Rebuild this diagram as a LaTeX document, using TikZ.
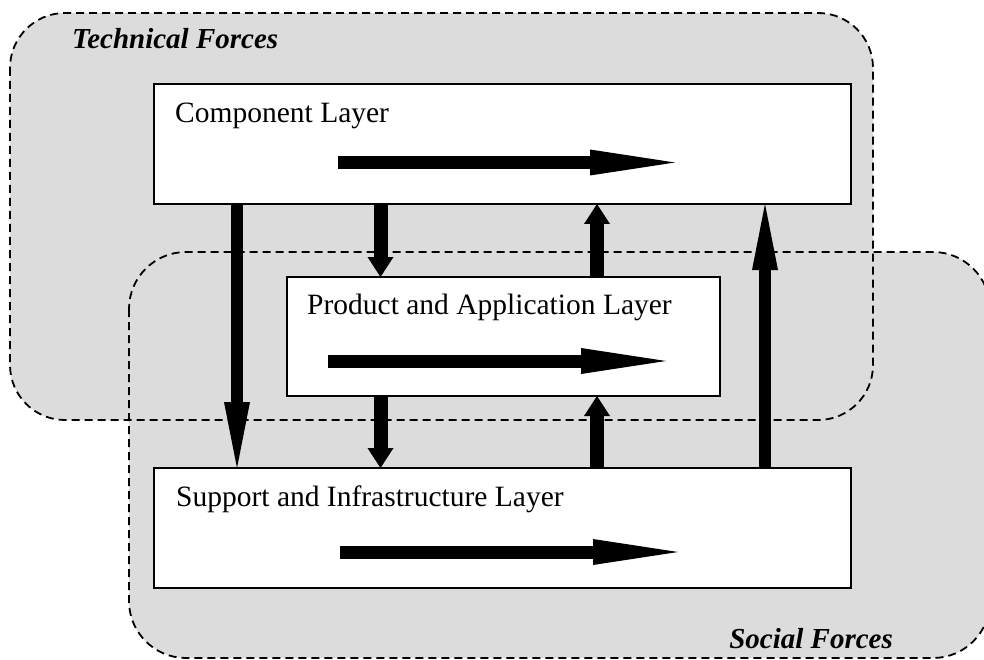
\documentclass[tikz,border=0pt]{standalone}
\usepackage{fontspec}
\setmainfont{Liberation Serif}
\usepackage{tikz}
\usetikzlibrary{arrows.meta}
\usetikzlibrary{positioning}
\definecolor{forcegray}{RGB}{220,220,220}
\tikzset{
    forcearea/.style={fill=forcegray},
    forceline/.style={draw=black, line width=1.8pt, dash pattern=on 8pt off 5pt},
    forcelabel/.style={inner sep=0pt, font=\fontsize{29}{34}\selectfont\bfseries\itshape},
    layer/.style={draw=black, fill=white, line width=1.6pt, inner sep=0pt, outer sep=0pt},
    layerlabel/.style={inner sep=0pt, font=\fontsize{29.5}{34}\selectfont},
    flow/.style={draw=black, line width=13pt,
        -{Triangle[length=85pt,width=26pt,line width=0pt]}},
    longflow/.style={draw=black, line width=12.5pt,
        -{Triangle[length=66pt,width=26pt,line width=0pt]}},
    shortflow/.style={draw=black, line width=14pt,
        -{Triangle[length=20pt,width=26pt,line width=0pt]}}
}
\begin{document}
\begin{tikzpicture}[x=1pt,y=-1pt]
	\useasboundingbox (0,0) rectangle (984,660);
	\clip (0,0) rectangle (984,660);
	% force regions
	\fill[forcearea, rounded corners=55pt] (10,13) rectangle (873,420);
	\fill[forcearea, rounded corners=57pt] (129,252) rectangle (990,658);
	\draw[forceline, rounded corners=55pt] (10,13) rectangle (873,420);
	\draw[forceline, rounded corners=57pt] (129,252) rectangle (990,658);
	\node[forcelabel, anchor=base west] (tech) at (72,49) {Technical Forces};
	\node[forcelabel, anchor=base east] (social) at (893,648) {Social Forces};
	% layers
	\node[layer, minimum width=697pt, minimum height=120pt] (comp) at (502.5,144) {};
	\node[layer, minimum width=433pt, minimum height=119pt] (prod) at (503.5,336.5) {};
	\node[layer, minimum width=697pt, minimum height=120pt] (supp) at (502.5,528) {};
	\node[layerlabel, anchor=base west] (complabel) at (175,123) {Component Layer};
	\node[layerlabel, anchor=base west] (prodlabel) at (307,314) {Product and Application Layer};
	\node[layerlabel, anchor=base west] (supplabel) at (176,506) {Support and Infrastructure Layer};
	% flows inside the layers
	\coordinate (compin) at (338,162.5);
	\coordinate (compout) at (675,162.5);
	\coordinate (prodin) at (328,361);
	\coordinate (prodout) at (666,361);
	\coordinate (suppin) at (340,552);
	\coordinate (suppout) at (678,552);
	\draw[flow] (compin)--(compout);
	\draw[flow] (prodin)--(prodout);
	\draw[flow] (suppin)--(suppout);
	% flows between the layers
	\coordinate (xa) at (237,0);
	\coordinate (xb) at (380.5,0);
	\coordinate (xc) at (597,0);
	\coordinate (xd) at (765,0);
	\draw[longflow] (comp.south -| xa)--(supp.north -| xa);
	\draw[shortflow] (comp.south -| xb)--(prod.north -| xb);
	\draw[shortflow] (prod.south -| xb)--(supp.north -| xb);
	\draw[shortflow] (prod.north -| xc)--(comp.south -| xc);
	\draw[shortflow] (supp.north -| xc)--(prod.south -| xc);
	\draw[longflow] (supp.north -| xd)--(comp.south -| xd);
\end{tikzpicture}
\end{document}
